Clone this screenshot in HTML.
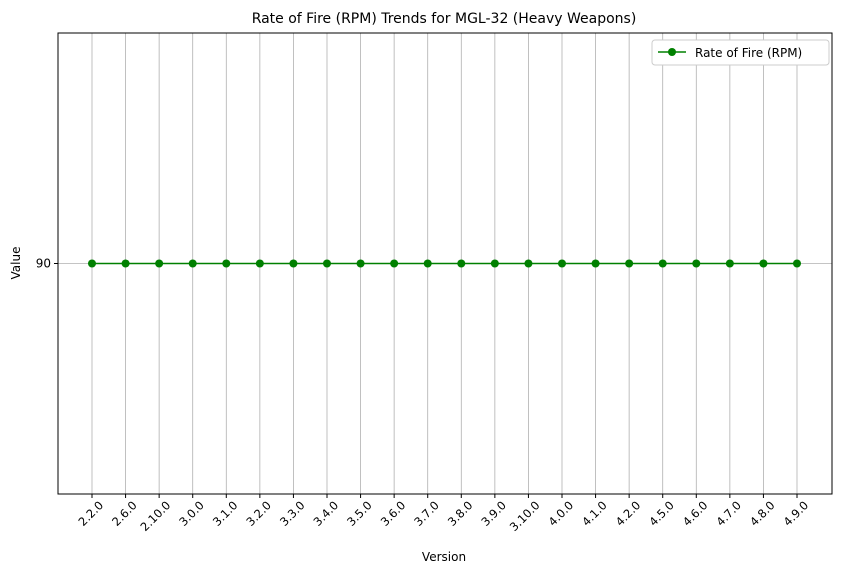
<!DOCTYPE html>
<html><head><meta charset="utf-8"><style>body{margin:0;background:#fff}svg{display:block;font-family:"DejaVu Sans","Liberation Sans",sans-serif}</style></head>
<body>
<svg id="chart" width="841" height="574">
<rect width="841" height="574" fill="#fff"/>
<text x="444" y="23" font-size="14" text-anchor="middle">Rate of Fire (RPM) Trends for MGL-32 (Heavy Weapons)</text>
<g id="grid"></g><g id="xticks"></g><g id="yticks"></g><g id="series"></g>
<rect x="58" y="33" width="774" height="461" fill="none" stroke="#000" stroke-width="1"/>
<text x="444" y="561" font-size="12" text-anchor="middle">Version</text>
<text transform="translate(20,263) rotate(-90)" font-size="12" text-anchor="middle">Value</text>
<g>
<rect x="652" y="40" width="177" height="25" rx="3" fill="#fff" stroke="#ccc"/>
<line x1="658" y1="52" x2="686" y2="52" stroke="green" stroke-width="1.5"/>
<circle cx="672" cy="52" r="4" fill="green"/>
<text x="695" y="57" font-size="12">Rate of Fire (RPM)</text>
</g>
</svg>
<script>
const categories=["2.2.0","2.6.0","2.10.0","3.0.0","3.1.0","3.2.0","3.3.0","3.4.0","3.5.0","3.6.0","3.7.0","3.8.0","3.9.0","3.10.0","4.0.0","4.1.0","4.2.0","4.5.0","4.6.0","4.7.0","4.8.0","4.9.0"];
const values=[90,90,90,90,90,90,90,90,90,90,90,90,90,90,90,90,90,90,90,90,90,90];
const yTicks=[90];
const NS="http://www.w3.org/2000/svg";
const X0=92,X1=797,TOP=33,BOT=494;
function xs(i){return X0+(X1-X0)*i/(categories.length-1);}
const mn=Math.min(...values),mx=Math.max(...values);
const lo=mn===mx?mn-1:mn-(mx-mn)*0.05;
const hi=mn===mx?mx+1:mx+(mx-mn)*0.05;
function ys(v){return BOT-(v-lo)/(hi-lo)*(BOT-TOP);}
function mk(t,a,p){const e=document.createElementNS(NS,t);for(const k in a)e.setAttribute(k,a[k]);p.appendChild(e);return e;}
const grid=document.getElementById('grid'),xt=document.getElementById('xticks'),yt=document.getElementById('yticks'),ser=document.getElementById('series');
categories.forEach((c,i)=>{const x=xs(i);
 const g=mk('line',{x1:x,x2:x,y1:TOP,y2:BOT,stroke:'#b0b0b0','stroke-width':0.8},grid);
 
 
 const tk=mk('line',{x1:x,x2:x,y1:BOT,y2:BOT+4,stroke:'#000'},xt);
 
 
 const t=mk('text',{x:x+12,y:BOT+12,'font-size':11.5,'text-anchor':'end',transform:`rotate(-45 ${x+12} ${BOT+12})`},xt);
 t.textContent=c;
 
 
});
yTicks.forEach(v=>{const y=ys(v);
 const g=mk('line',{x1:58,x2:832,y1:y,y2:y,stroke:'#b0b0b0','stroke-width':0.8},grid);
 
 
 const tk=mk('line',{x1:54,x2:58,y1:y,y2:y,stroke:'#000'},yt);
 
 
 const t=mk('text',{x:51,y:y+4,'font-size':12,'text-anchor':'end'},yt);
 t.textContent=v;
 
 
});
const pl=mk('polyline',{points:values.map((v,i)=>xs(i)+','+ys(v)).join(' '),fill:'none',stroke:'green','stroke-width':1.5},ser);


values.forEach((v,i)=>{const c=mk('circle',{cx:xs(i),cy:ys(v),r:4,fill:'green'},ser);
 
 
});
</script>
</body></html>
